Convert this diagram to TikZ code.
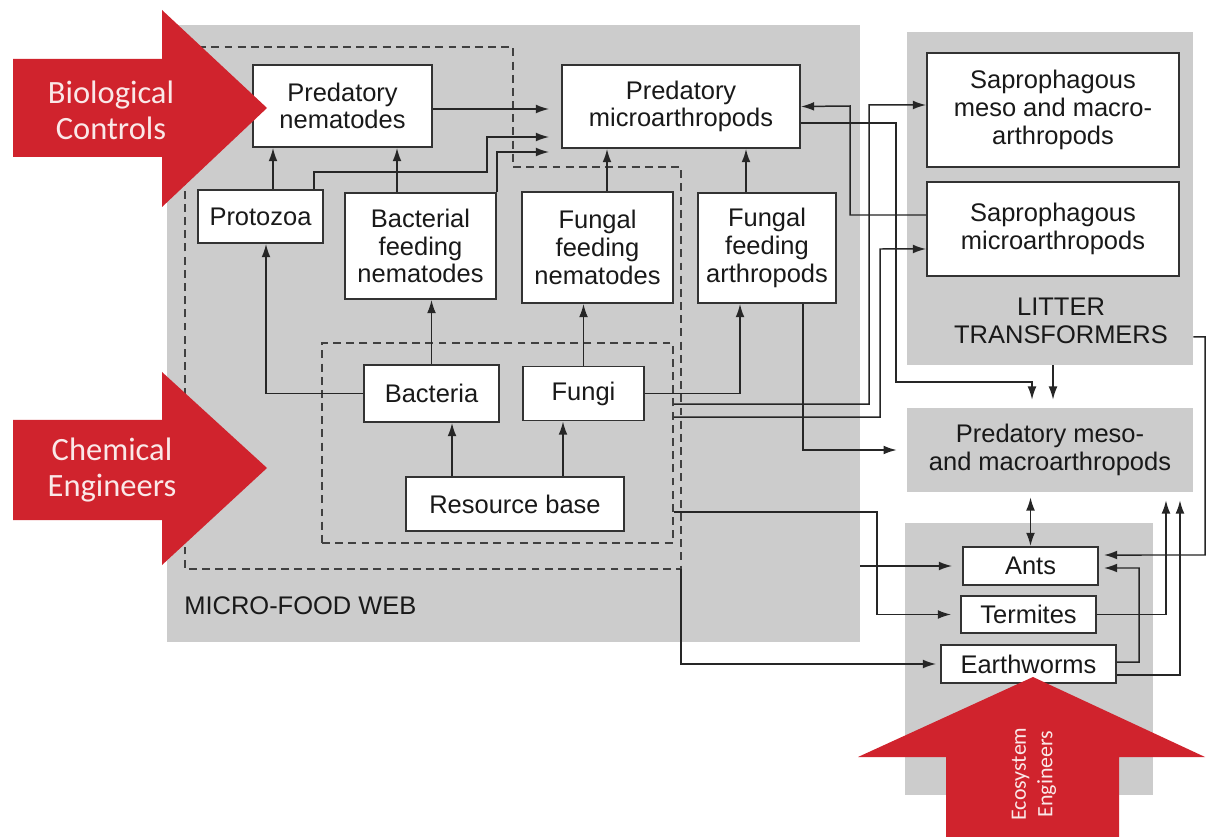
\documentclass[tikz,border=0pt]{standalone}
\usepackage{fontspec}
\setmainfont{Liberation Sans}
\newfontfamily\calfont{Carlito}
\usetikzlibrary{arrows.meta}

\begin{document}
\begin{tikzpicture}[x=0.02cm,y=-0.02cm]
					\tikzstyle{box}=[draw=black!80,line width=1.1pt,fill=white,inner sep=0pt,align=center,text=black!90,font=\fontsize{14.5}{15.8}\selectfont]
					\tikzstyle{area}=[fill=black!20,inner sep=0pt,align=center,text=black!90,font=\fontsize{14.5}{15.8}\selectfont]
					\tikzstyle{lbl}=[inner sep=0pt,align=center,text=black!90,font=\fontsize{14.5}{15.8}\selectfont]
					\tikzstyle{arr}=[-{Latex[length=7.5pt,width=5pt]},line width=0.85pt,draw=black!85]
					\tikzstyle{arr2}=[{Latex[length=7.5pt,width=5pt]}-{Latex[length=7.5pt,width=5pt]},line width=0.85pt,draw=black!85]
					\tikzstyle{dashline}=[dash pattern=on 4.5pt off 3pt,line width=0.9pt,draw=black!75]
					\tikzstyle{redarrow}=[fill={rgb,255:red,208;green,35;blue,45}]
					\tikzstyle{redtext}=[inner sep=0pt,align=center,text={rgb,255:red,250;green,232;blue,232},font=\calfont\fontsize{18.5}{20.5}\selectfont]
					\fill[white] (0,0) rectangle (1206,837);
					\useasboundingbox (0,0) rectangle (1206,837);
					\node[area,minimum width=13.86cm,minimum height=12.34cm] (mfw) at (513.5,333.5) {};
					\node[area,minimum width=5.72cm,minimum height=6.66cm] (lt) at (1050,198.5) {};
					\node[area,minimum width=5.72cm,minimum height=1.68cm] (pmm) at (1050,450) {Predatory meso-\\and macroarthropods};
					\node[area,minimum width=4.96cm,minimum height=5.44cm] (eco) at (1029,659) {};
					\node[lbl,anchor=west] (mfwl) at (184,606) {MICRO-FOOD WEB};
					\node[lbl] (ltl) at (1061,320.5) {LITTER\\TRANSFORMERS};
					\draw[dashline] (185,47) -- (513,47) -- (513,167) -- (681,167) -- (681,569) -- (185,569) -- cycle;
					\coordinate (oc) at (681,569);
					\node[dashline,draw,minimum width=7.02cm,minimum height=4cm] (inn) at (497.5,443) {};
					\node[box,minimum width=3.58cm,minimum height=1.64cm] (pn) at (342.5,106) {Predatory\\nematodes};
					\node[box,minimum width=4.76cm,minimum height=1.66cm] (pm) at (681,106.5) {Predatory\\microarthropods};
					\node[box,minimum width=2.5cm,minimum height=1.06cm] (pz) at (260.5,216.5) {Protozoa};
					\node[box,minimum width=3.02cm,minimum height=2.12cm] (bfn) at (420.5,246) {Bacterial\\feeding\\nematodes};
					\node[box,minimum width=3.02cm,minimum height=2.22cm] (ffn) at (597.5,247.5) {Fungal\\feeding\\nematodes};
					\node[box,minimum width=2.76cm,minimum height=2.2cm] (ffa) at (767,248) {Fungal\\feeding\\arthropods};
					\node[box,minimum width=2.7cm,minimum height=1.14cm] (bac) at (431.5,393.5) {Bacteria};
					\node[box,minimum width=2.42cm,minimum height=1.08cm] (fun) at (583.5,393.5) {Fungi};
					\node[box,minimum width=4.36cm,minimum height=1.08cm] (rb) at (515,504) {Resource base};
					\node[box,minimum width=5.04cm,minimum height=2.28cm] (smm) at (1053,110) {Saprophagous\\meso and macro-\\arthropods};
					\node[box,minimum width=5.04cm,minimum height=1.88cm] (smi) at (1053,229) {Saprophagous\\microarthropods};
					\node[box,minimum width=2.7cm,minimum height=0.76cm] (ant) at (1030.5,566) {Ants};
					\node[box,minimum width=2.7cm,minimum height=0.74cm] (ter) at (1028.5,614.5) {Termites};
					\node[box,minimum width=3.5cm,minimum height=0.76cm] (ew) at (1028.5,664) {Earthworms};
					\draw[arr] ([xshift=.25cm]pz.north) -- ([xshift=.25cm]pz.north |- pn.south);
					\draw[arr] ([xshift=-.47cm]bfn.north) -- ([xshift=-.47cm]bfn.north |- pn.south);
					\draw[arr,shorten >=.24cm] ([yshift=-.06cm]pn.east) -- ([yshift=-.06cm]pn.east -| pm.west);
					\draw[arr,shorten >=.24cm] ([xshift=1.07cm]pz.north) |- (487,172) |- (pm.west |- 0,137);
					\draw[arr,shorten >=.24cm] (bfn.north east) |- (pm.west |- 0,152);
					\draw[arr] ([xshift=.19cm]ffn.north) -- ([xshift=.19cm]ffn.north |- pm.south);
					\draw[arr] ([xshift=-.42cm]ffa.north) -- ([xshift=-.42cm]ffa.north |- pm.south);
					\draw[arr] (bac.north) -- (bac.north |- bfn.south);
					\draw[arr] (fun.north) -- (fun.north |- ffn.south);
					\draw[arr] (bac.west) -| ([xshift=.11cm]pz.south);
					\draw[arr] ([xshift=-1.26cm]rb.north) -- ([xshift=-1.26cm]rb.north |- bac.south);
					\draw[arr] ([xshift=.96cm]rb.north) -- ([xshift=.96cm]rb.north |- fun.south);
					\draw[arr] (fun.east) -| ([xshift=-.54cm]ffa.south);
					\draw[arr,shorten >=.2cm] ([xshift=.72cm]ffa.south) |- (pmm.west);
					\draw[arr] ([yshift=.78cm]inn.east) -| (869,105) -- ([yshift=.1cm]smm.west);
					\draw[arr] ([yshift=.52cm]inn.east) -| (880,249) -- ([yshift=-.4cm]smi.west);
					\draw[arr,shorten >=.18cm] ([yshift=-1.38cm]inn.east) -| (877,614.5) -- (ter.west);
					\draw[arr,shorten >=.2cm] (mfw.east |- ant.west) -- (ant.west);
					\draw[arr,shorten >=.08cm] (oc) |- (ew.west);
					\draw[arr] ([yshift=.28cm]smi.west) -| (850,106) -- (pm.east);
					\draw[arr,shorten >=.16cm] ([yshift=-.33cm]pm.east) -| (896,382) -| ([xshift=-.36cm]pmm.north);
					\draw[arr,shorten >=.16cm] ([xshift=.06cm]lt.south) -- ([xshift=.06cm]lt.south |- pmm.north);
					\draw[arr,shorten >=.1cm] ([yshift=-2.77cm]lt.east) -| (1205,555) -- ([yshift=.22cm]ant.east);
					\draw[arr,shorten >=.16cm] (ter.east) -| ([xshift=2.32cm]pmm.south);
					\draw[arr,shorten >=.16cm] ([yshift=-.22cm]ew.east) -| ([xshift=2.6cm]pmm.south);
					\draw[arr,shorten >=.1cm] ([yshift=.04cm]ew.east) -| (1139,568) -- ([yshift=-.04cm]ant.east);
					\draw[arr2,shorten >=.1cm] (ant.north) -- (ant.north |- pmm.south);
					\fill[redarrow] (13,59) -- (162,59) -- (162,10) -- (267,108) -- (162,207) -- (162,157) -- (13,157) -- cycle;
					\fill[redarrow] (13,420) -- (162,420) -- (162,372) -- (267,468) -- (162,565) -- (162,520) -- (13,520) -- cycle;
					\fill[redarrow] (946,837) -- (946,757) -- (858,757) -- (1033,677) -- (1205,757) -- (1119,757) -- (1119,837) -- cycle;
					\node[redtext] (bio) at (111,110) {Biological\\Controls};
					\node[redtext] (chem) at (112,470) {Chemical\\Engineers};
					\node[redtext,rotate=90,font=\calfont\fontsize{12.5}{15}\selectfont] (ecot) at (1034,774) {Ecosystem\\Engineers};
					\end{tikzpicture}
\end{document}
